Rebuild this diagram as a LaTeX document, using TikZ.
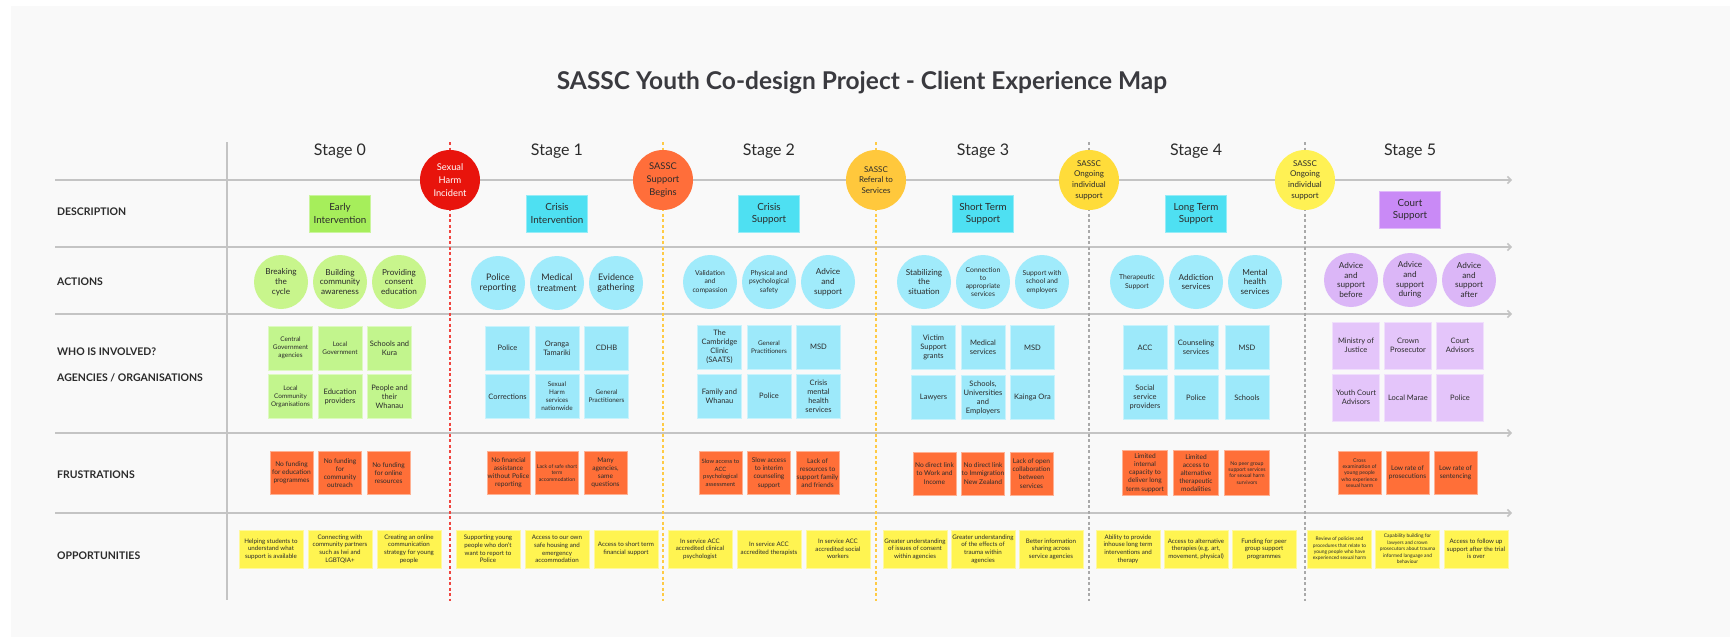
\documentclass[tikz,border=0pt]{standalone}
\usepackage{fontspec}
\setmainfont{Lato}
\usetikzlibrary{arrows.meta}

% palette
\definecolor{panel}{HTML}{F9F9F9}
\definecolor{rulegray}{HTML}{C4C4C4}
\definecolor{ink}{HTML}{2B2B2B}
\definecolor{titleink}{HTML}{3A3A3F}
\definecolor{harmred}{HTML}{E8140C}
\definecolor{beginorange}{HTML}{FF6E3A}
\definecolor{referamber}{HTML}{FFC83C}
\definecolor{ongoingA}{HTML}{FFDC3A}
\definecolor{ongoingB}{HTML}{FFF154}
\definecolor{descgreen}{HTML}{A6EE5B}
\definecolor{desccyan}{HTML}{4EE0F2}
\definecolor{descpurple}{HTML}{C98AF6}
\definecolor{actgreen}{HTML}{C8F58C}
\definecolor{actcyan}{HTML}{A0EBFB}
\definecolor{actpurple}{HTML}{DBB6F7}
\definecolor{whogreen}{HTML}{C2F58D}
\definecolor{whocyan}{HTML}{9DE9FA}
\definecolor{whopurple}{HTML}{E4C5FA}
\definecolor{frorange}{HTML}{FF6F38}
\definecolor{opyellow}{HTML}{FFF451}
\definecolor{dashred}{HTML}{F0453F}
\definecolor{dashamber}{HTML}{FFCB45}
\definecolor{dashgray}{HTML}{A9A9A9}

% type sizes
\newcommand\ftTitle{\fontsize{24.5}{29}\selectfont\bfseries}
\newcommand\ftStage{\fontsize{16}{19}\selectfont}
\newcommand\ftRow{\fontsize{10.5}{12}\selectfont\bfseries}
\newcommand\ftDesc{\fontsize{9.8}{12.3}\selectfont}
\newcommand\ftMile{\fontsize{9.3}{12.8}\selectfont}
\newcommand\ftMileS{\fontsize{8}{10.7}\selectfont}
\newcommand\ftAct{\fontsize{8.2}{9.8}\selectfont}
\newcommand\ftActL{\fontsize{9}{10.7}\selectfont}
\newcommand\ftActS{\fontsize{6.8}{8.3}\selectfont}
\newcommand\ftWho{\fontsize{7.5}{9}\selectfont}
\newcommand\ftWhoS{\fontsize{6.4}{8}\selectfont}
\newcommand\ftFr{\fontsize{6.6}{8.1}\selectfont}
\newcommand\ftFrS{\fontsize{5.2}{6.3}\selectfont}
\newcommand\ftOp{\fontsize{6.2}{7.7}\selectfont}
\newcommand\ftOpS{\fontsize{4.9}{6.4}\selectfont}

\tikzset{
  title/.style={font=\ftTitle, text=titleink, inner sep=0pt},
  stagelabel/.style={font=\ftStage, text=ink, inner sep=0pt},
  rowlabel/.style={font=\ftRow, text=ink, anchor=west, inner sep=0pt},
  rowrule/.style={draw=rulegray, line width=1.5pt, -{Straight Barb[length=3.5pt,width=7pt]}},
  axisrule/.style={draw=rulegray, line width=1.3pt},
  divider/.style={draw=#1, line width=1.2pt, dash pattern=on 3pt off 2.5pt},
  mile/.style={circle, fill=#1, minimum size=60pt, inner sep=0pt, align=center, font=\ftMile, text=ink},
  descbox/.style={rectangle, fill=#1, draw=#1!60!white, line width=0.6pt, minimum width=61pt, minimum height=37pt, inner sep=0pt, align=center, font=\ftDesc, text=ink},
  act/.style={circle, fill=#1, minimum size=54pt, inner sep=0pt, align=center, font=\ftAct, text=ink},
  who/.style={rectangle, fill=#1, draw=#1!55!white, line width=0.6pt, minimum size=44pt, inner sep=0pt, align=center, font=\ftWho, text=ink},
  fr/.style={rectangle, fill=frorange, draw=frorange!55!white, line width=0.6pt, minimum size=43pt, inner sep=0pt, align=center, font=\ftFr, text=ink},
  op/.style={rectangle, fill=opyellow, draw=opyellow!55!white, line width=0.6pt, minimum width=64pt, minimum height=38pt, inner sep=0pt, align=center, font=\ftOp, text=ink},
}

\begin{document}
\begin{tikzpicture}[x=1pt,y=-1pt]
\useasboundingbox (0,0) rectangle (1730,637);
\fill[white] (0,0) rectangle (1730,637);
\fill[panel] (11,6) rectangle (1730,637);

\node[title] (title) at (862,83) {SASSC Youth Co-design Project - Client Experience Map};

% horizontal row rules with arrow ends
\foreach \y/\n in {180/r0,247/r1,314/r2,433/r3,513/r4}{
  \coordinate (\n-w) at (55,\y);
  \coordinate (\n-e) at (1512,\y);
  \draw[rowrule] (\n-w) -- (\n-e);
}
% vertical axis on the left
\coordinate (axis-top) at (227,142);
\coordinate (axis-bot) at (227,600);
\draw[axisrule] (axis-top) -- (axis-bot);

% milestone dividers
\foreach \x/\c/\n in {450/dashred/m1,663/dashamber/m2,876/dashamber/m3,1089/dashgray/m4,1305/dashgray/m5}{
  \coordinate (\n-top) at (\x,142);
  \coordinate (\n-bot) at (\x,601);
  \draw[divider=\c] (\n-top) -- (\n-bot);
}

% row labels
\node[rowlabel] (lbl-desc) at (57,212) {DESCRIPTION};
\node[rowlabel] (lbl-act) at (57,282) {ACTIONS};
\node[rowlabel] (lbl-who) at (57,352) {WHO IS INVOLVED?};
\node[rowlabel] (lbl-agency) at (57,378) {AGENCIES / ORGANISATIONS};
\node[rowlabel] (lbl-fr) at (57,475) {FRUSTRATIONS};
\node[rowlabel] (lbl-op) at (57,556) {OPPORTUNITIES};

% milestones on the timeline
\node[mile=harmred, text=white] (m1) at (450,180) {Sexual\\Harm\\Incident};
\node[mile=beginorange] (m2) at (663,180) {SASSC\\Support\\Begins};
\node[mile=referamber, font=\ftMileS] (m3) at (876,180) {SASSC\\Referal to\\Services};
\node[mile=ongoingA, font=\ftMileS] (m4) at (1089,180) {SASSC\\Ongoing\\individual\\support};
\node[mile=ongoingB, font=\ftMileS] (m5) at (1305,180) {SASSC\\Ongoing\\individual\\support};

% ---------------- Stage 0
\begin{scope}[xshift=340pt]
\node[stagelabel] (s0) at (0,151) {Stage 0};
\node[descbox=descgreen] (s0d) at (0,213.5) {Early\\Intervention};
\node[act=actgreen] (s0a1) at (-59,282) {Breaking\\the\\cycle};
\node[act=actgreen] (s0a2) at (0,282) {Building\\community\\awareness};
\node[act=actgreen] (s0a3) at (59,282) {Providing\\consent\\education};
\node[who=whogreen, font=\ftWhoS] (s0w1) at (-49.5,348) {Central\\Government\\agencies};
\node[who=whogreen, font=\ftWhoS] (s0w2) at (0,348) {Local\\Government};
\node[who=whogreen] (s0w3) at (49.5,348) {Schools and\\Kura};
\node[who=whogreen, font=\ftWhoS] (s0w4) at (-49.5,396.5) {Local\\Community\\Organisations};
\node[who=whogreen] (s0w5) at (0,396.5) {Education\\providers};
\node[who=whogreen] (s0w6) at (49.5,396.5) {People and\\their\\Whanau};
\node[fr] (s0f1) at (-48.5,473) {No funding\\for education\\programmes};
\node[fr] (s0f2) at (0,473) {No funding\\for\\community\\outreach};
\node[fr] (s0f3) at (48.5,473) {No funding\\for online\\resources};
\node[op] (s0o1) at (-69,549) {Helping students to\\understand what\\support is available};
\node[op] (s0o2) at (0,549) {Connecting with\\community partners\\such as Iwi and\\LGBTQIA+};
\node[op] (s0o3) at (69,549) {Creating an online\\communication\\strategy for young\\people};
\end{scope}

% ---------------- Stage 1
\begin{scope}[xshift=557pt]
\node[stagelabel] (s1) at (0,151) {Stage 1};
\node[descbox=desccyan] (s1d) at (0,213.5) {Crisis\\Intervention};
\node[act=actcyan, font=\ftActL] (s1a1) at (-59,283) {Police\\reporting};
\node[act=actcyan, font=\ftActL] (s1a2) at (0,283) {Medical\\treatment};
\node[act=actcyan, font=\ftActL] (s1a3) at (59,283) {Evidence\\gathering};
\node[who=whocyan] (s1w1) at (-49.5,348) {Police};
\node[who=whocyan] (s1w2) at (0,348) {Oranga\\Tamariki};
\node[who=whocyan] (s1w3) at (49.5,348) {CDHB};
\node[who=whocyan] (s1w4) at (-49.5,396.5) {Corrections};
\node[who=whocyan, font=\ftWhoS] (s1w5) at (0,396.5) {Sexual\\Harm\\services\\nationwide};
\node[who=whocyan, font=\ftWhoS] (s1w6) at (49.5,396.5) {General\\Practitioners};
\node[fr] (s1f1) at (-48.5,473) {No financial\\assistance\\without Police\\reporting};
\node[fr, font=\ftFrS] (s1f2) at (0,473) {Lack of safe short\\term\\accommodation};
\node[fr] (s1f3) at (48.5,473) {Many\\agencies,\\same\\questions};
\node[op] (s1o1) at (-69,549) {Supporting young\\people who don't\\want to report to\\Police};
\node[op] (s1o2) at (0,549) {Access to our own\\safe housing and\\emergency\\accommodation};
\node[op] (s1o3) at (69,549) {Access to short term\\financial support};
\end{scope}

% ---------------- Stage 2
\begin{scope}[xshift=769pt]
\node[stagelabel] (s2) at (0,151) {Stage 2};
\node[descbox=desccyan] (s2d) at (0,213.5) {Crisis\\Support};
\node[act=actcyan, font=\ftActS] (s2a1) at (-59,282) {Validation\\and\\compassion};
\node[act=actcyan, font=\ftActS] (s2a2) at (0,282) {Physical and\\psychological\\safety};
\node[act=actcyan] (s2a3) at (59,282) {Advice\\and\\support};
\node[who=whocyan] (s2w1) at (-49.5,347) {The\\Cambridge\\Clinic\\(SAATS)};
\node[who=whocyan, font=\ftWhoS] (s2w2) at (0,347) {General\\Practitioners};
\node[who=whocyan] (s2w3) at (49.5,347) {MSD};
\node[who=whocyan] (s2w4) at (-49.5,396) {Family and\\Whanau};
\node[who=whocyan] (s2w5) at (0,396) {Police};
\node[who=whocyan] (s2w6) at (49.5,396) {Crisis\\mental\\health\\services};
\node[fr, font=\fontsize{5.9}{7.6}\selectfont] (s2f1) at (-48.5,473) {Slow access to\\ACC\\psychological\\assessment};
\node[fr] (s2f2) at (0,473) {Slow access\\to interim\\counseling\\support};
\node[fr] (s2f3) at (48.5,473) {Lack of\\resources to\\support family\\and friends};
\node[op] (s2o1) at (-69,549) {In service ACC\\accredited clinical\\psychologist};
\node[op] (s2o2) at (0,549) {In service ACC\\accredited therapists};
\node[op] (s2o3) at (69,549) {In service ACC\\accredited social\\workers};
\end{scope}

% ---------------- Stage 3
\begin{scope}[xshift=983pt]
\node[stagelabel] (s3) at (0,151) {Stage 3};
\node[descbox=desccyan] (s3d) at (0,213.5) {Short Term\\Support};
\node[act=actcyan] (s3a1) at (-59,282) {Stabilizing\\the\\situation};
\node[act=actcyan, font=\ftActS] (s3a2) at (0,282) {Connection\\to\\appropriate\\services};
\node[act=actcyan, font=\ftActS] (s3a3) at (59,282) {Support with\\school and\\employers};
\node[who=whocyan] (s3w1) at (-49.5,347.5) {Victim\\Support\\grants};
\node[who=whocyan] (s3w2) at (0,347.5) {Medical\\services};
\node[who=whocyan] (s3w3) at (49.5,347.5) {MSD};
\node[who=whocyan] (s3w4) at (-49.5,397.5) {Lawyers};
\node[who=whocyan] (s3w5) at (0,397.5) {Schools,\\Universities\\and\\Employers};
\node[who=whocyan] (s3w6) at (49.5,397.5) {Kainga Ora};
\node[fr] (s3f1) at (-48.5,473.5) {No direct link\\to Work and\\Income};
\node[fr] (s3f2) at (0,473.5) {No direct link\\to Immigration\\New Zealand};
\node[fr] (s3f3) at (48.5,473.5) {Lack of open\\collaboration\\between\\services};
\node[op] (s3o1) at (-68,549) {Greater understanding\\of issues of consent\\within agencies};
\node[op] (s3o2) at (0,549) {Greater understanding\\of the effects of\\trauma within\\agencies};
\node[op] (s3o3) at (68,549) {Better information\\sharing across\\service agencies};
\end{scope}

% ---------------- Stage 4
\begin{scope}[xshift=1196pt]
\node[stagelabel] (s4) at (0,151) {Stage 4};
\node[descbox=desccyan] (s4d) at (0,213.5) {Long Term\\Support};
\node[act=actcyan, font=\ftActS] (s4a1) at (-59,282) {Therapeutic\\Support};
\node[act=actcyan] (s4a2) at (0,282) {Addiction\\services};
\node[act=actcyan] (s4a3) at (59,282) {Mental\\health\\services};
\node[who=whocyan] (s4w1) at (-51,347.5) {ACC};
\node[who=whocyan] (s4w2) at (0,347.5) {Counseling\\services};
\node[who=whocyan] (s4w3) at (51,347.5) {MSD};
\node[who=whocyan] (s4w4) at (-51,397.5) {Social\\service\\providers};
\node[who=whocyan] (s4w5) at (0,397.5) {Police};
\node[who=whocyan] (s4w6) at (51,397.5) {Schools};
\node[fr, minimum size=45pt] (s4f1) at (-51,473) {Limited\\internal\\capacity to\\deliver long\\term support};
\node[fr, minimum size=45pt] (s4f2) at (0,473) {Limited\\access to\\alternative\\therapeutic\\modalities};
\node[fr, minimum size=45pt, font=\ftFrS] (s4f3) at (51,473) {No peer group\\support services\\for sexual harm\\survivors};
\node[op] (s4o1) at (-68,549) {Ability to provide\\inhouse long term\\interventions and\\therapy};
\node[op] (s4o2) at (0,549) {Access to alternative\\therapies (e.g. art,\\movement, physical)};
\node[op] (s4o3) at (68,549) {Funding for peer\\group support\\programmes};
\end{scope}

% ---------------- Stage 5
\begin{scope}[xshift=1410pt]
\node[stagelabel] (s5) at (0,151) {Stage 5};
\node[descbox=descpurple] (s5d) at (0,210) {Court\\Support};
\node[act=actpurple] (s5a1) at (-59,280) {Advice\\and\\support\\before};
\node[act=actpurple] (s5a2) at (0,280) {Advice\\and\\support\\during};
\node[act=actpurple] (s5a3) at (59,280) {Advice\\and\\support\\after};
\node[who=whopurple, minimum size=47pt] (s5w1) at (-54,345.5) {Ministry of\\Justice};
\node[who=whopurple, minimum size=47pt] (s5w2) at (-2,345.5) {Crown\\Prosecutor};
\node[who=whopurple, minimum size=47pt] (s5w3) at (50,345.5) {Court\\Advisors};
\node[who=whopurple, minimum size=47pt] (s5w4) at (-54,397.5) {Youth Court\\Advisors};
\node[who=whopurple, minimum size=47pt] (s5w5) at (-2,397.5) {Local Marae};
\node[who=whopurple, minimum size=47pt] (s5w6) at (50,397.5) {Police};
\node[fr, font=\ftFrS] (s5f1) at (-50.5,473) {Cross\\examination of\\young people\\who experience\\sexual harm};
\node[fr] (s5f2) at (-2.5,473) {Low rate of\\prosecutions};
\node[fr] (s5f3) at (45.5,473) {Low rate of\\sentencing};
\node[op, font=\ftOpS] (s5o1) at (-70.5,549) {Review of policies and\\procedures that relate to\\young people who have\\experienced sexual harm};
\node[op, font=\ftOpS] (s5o2) at (-2.5,549) {Capability building for\\lawyers and crown\\prosecutors about trauma\\informed language and\\behaviour};
\node[op] (s5o3) at (66,549) {Access to follow up\\support after the trial\\is over};
\end{scope}
\end{tikzpicture}
\end{document}
